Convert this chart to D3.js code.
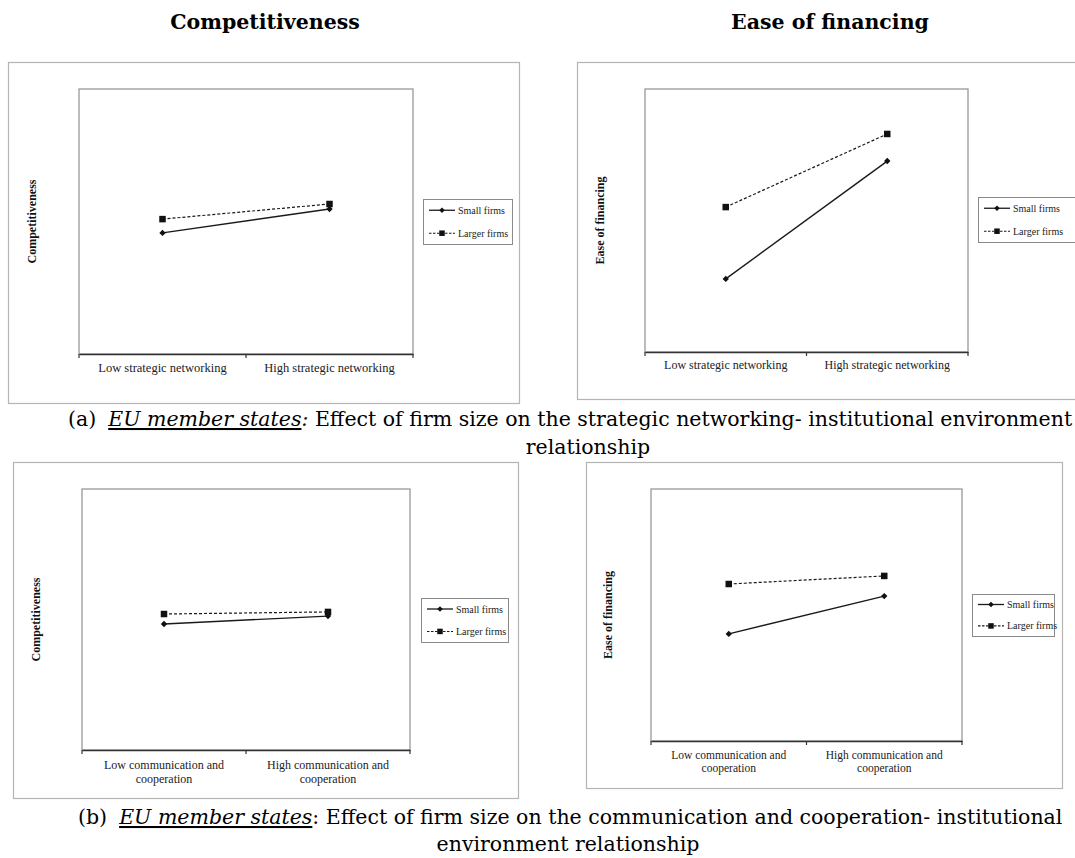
<!DOCTYPE html>
<html>
<head>
<meta charset="utf-8">
<script src="https://cdn.jsdelivr.net/npm/d3@7"></script>
<style>
  body { margin: 0; background: #fff; }
  svg { display: block; }
</style>
</head>
<body>
<svg id="chart" width="1075" height="858"></svg>
<script>
// ---------- data ----------
const seriesNames = ["Small firms", "Larger firms"];
const outcomeTitles = ["Competitiveness", "Ease of financing"];
const networkingLevels = ["Low strategic networking", "High strategic networking"];
const cooperationLevels = ["Low communication and cooperation", "High communication and cooperation"];
const cooperationLabelLines = [["Low communication and", "cooperation"], ["High communication and", "cooperation"]];
const yDomain = [0, 10];

// (a) strategic networking
const competitivenessNetworkingSmall = [4.57, 5.47];
const competitivenessNetworkingLarger = [5.09, 5.66];
const financingNetworkingSmall = [2.78, 7.26];
const financingNetworkingLarger = [5.51, 8.29];

// (b) communication and cooperation
const competitivenessCooperationSmall = [4.83, 5.13];
const competitivenessCooperationLarger = [5.21, 5.29];
const financingCooperationSmall = [4.25, 5.75];
const financingCooperationLarger = [6.23, 6.55];

// captions
const captionA = ["(a)", "EU member states", ":", " Effect of firm size on the strategic networking- institutional environment", "relationship"];
const captionB = ["(b)", "EU member states", ":", " Effect of firm size on the communication and cooperation- institutional", "environment relationship"];

// ---------- layout ----------
const panels = [
  {
    cats: networkingLevels, labels: networkingLevels.map(d => [d]),
    ylabel: outcomeTitles[0], small: competitivenessNetworkingSmall, larger: competitivenessNetworkingLarger,
    frame: [8, 62, 519, 403], plot: [79, 89, 413, 354], legend: [423, 199, 512, 244],
    ylabX: 32, tickY: 372, tickFont: 12.5
  },
  {
    cats: networkingLevels, labels: networkingLevels.map(d => [d]),
    ylabel: outcomeTitles[1], small: financingNetworkingSmall, larger: financingNetworkingLarger,
    frame: [577, 62, 1090, 399], plot: [645, 89, 968, 352], legend: [978, 197, 1090, 242],
    ylabX: 600, tickY: 369, tickFont: 12
  },
  {
    cats: cooperationLevels, labels: cooperationLabelLines,
    ylabel: outcomeTitles[0], small: competitivenessCooperationSmall, larger: competitivenessCooperationLarger,
    frame: [13, 462, 518, 798], plot: [82, 489, 410, 750], legend: [421, 598, 508, 642],
    ylabX: 36, tickY: 769, tickFont: 12
  },
  {
    cats: cooperationLevels, labels: cooperationLabelLines,
    ylabel: outcomeTitles[1], small: financingCooperationSmall, larger: financingCooperationLarger,
    frame: [586, 462, 1062, 788], plot: [651, 489, 962, 741], legend: [972, 594, 1054, 636],
    ylabX: 608, tickY: 759, tickFont: 11.5
  }
];

const svg = d3.select("#chart");
const chartFont = "'Liberation Serif', 'Times New Roman', serif";
const docFont = "'DejaVu Serif', serif";

const diamond = r => `M0,${-r}L${r},0L0,${r}L${-r},0Z`;

function drawMarker(g, kind, cx, cy, big) {
  if (kind === 0) {
    g.append("path").attr("d", diamond(big ? 3.2 : 2.8))
      .attr("transform", `translate(${cx},${cy})`).attr("fill", "#111");
  } else {
    const s = big ? 6.5 : 5.5;
    g.append("rect").attr("x", cx - s / 2).attr("y", cy - s / 2)
      .attr("width", s).attr("height", s).attr("fill", "#111");
  }
}

function drawPanel(p) {
  const g = svg.append("g");
  const [fx0, fy0, fx1, fy1] = p.frame;
  const [px0, py0, px1, py1] = p.plot;

  // outer chart-area frame
  g.append("rect").attr("x", fx0 + 0.5).attr("y", fy0 + 0.5)
    .attr("width", fx1 - fx0).attr("height", fy1 - fy0)
    .attr("fill", "#fff").attr("stroke", "#b4b4b4").attr("stroke-width", 1.2);

  const band = d3.scaleBand().domain(p.cats).range([px0, px1]);
  const x = d3.scalePoint().domain(p.cats).range([px0, px1]).padding(0.5);
  const y = d3.scaleLinear().domain(yDomain).range([py1, py0]);

  // plot-area frame
  g.append("rect").attr("x", px0).attr("y", py0)
    .attr("width", px1 - px0).attr("height", py1 - py0)
    .attr("fill", "none").attr("stroke", "#999").attr("stroke-width", 1.3);

  // category axis: boundary ticks, centred labels
  const axis = g.append("g").attr("transform", `translate(0,${py1})`)
    .call(d3.axisBottom(band).tickSize(0).tickFormat(""));
  axis.select(".domain").attr("stroke", "#333").attr("stroke-width", 1.3);
  const bounds = p.cats.map(c => band(c)).concat([band.range()[1]]);
  axis.selectAll("line.bound").data(bounds).join("line")
    .attr("class", "bound")
    .attr("x1", d => d).attr("x2", d => d).attr("y1", 0).attr("y2", 4)
    .attr("stroke", "#333").attr("stroke-width", 1.2);

  p.cats.forEach((c, i) => {
    const t = g.append("text").attr("x", x(c)).attr("y", p.tickY)
      .attr("text-anchor", "middle").attr("font-family", chartFont)
      .attr("font-size", p.tickFont).attr("fill", "#222");
    p.labels[i].forEach((ln, k) => {
      t.append("tspan").attr("x", x(c)).attr("dy", k === 0 ? 0 : p.tickFont * 1.15).text(ln);
    });
  });

  // y-axis title
  g.append("text")
    .attr("transform", `translate(${p.ylabX},${(py0 + py1) / 2}) rotate(-90)`)
    .attr("text-anchor", "middle").attr("dominant-baseline", "central")
    .attr("font-family", chartFont).attr("font-weight", "bold").attr("font-size", 12)
    .attr("fill", "#111").text(p.ylabel);

  // series lines
  const line = d3.line().x((d, i) => x(p.cats[i])).y(d => y(d));
  const series = [p.small, p.larger];
  series.forEach((vals, s) => {
    g.append("path").datum(vals).attr("d", line)
      .attr("fill", "none").attr("stroke", "#1a1a1a")
      .attr("stroke-width", s === 0 ? 1.4 : 1.2)
      .attr("stroke-dasharray", s === 0 ? null : "3,2");
    vals.forEach((v, i) => drawMarker(g, s, x(p.cats[i]), y(v), true));
  });

  // legend
  const [lx0, ly0, lx1, ly1] = p.legend;
  g.append("rect").attr("x", lx0 + 0.5).attr("y", ly0 + 0.5)
    .attr("width", lx1 - lx0).attr("height", ly1 - ly0)
    .attr("fill", "#fff").attr("stroke", "#8a8a8a").attr("stroke-width", 1);
  const rowH = (ly1 - ly0);
  seriesNames.forEach((name, s) => {
    const cy = ly0 + rowH * (s === 0 ? 0.25 : 0.76);
    g.append("line").attr("x1", lx0 + 6).attr("x2", lx0 + 32).attr("y1", cy).attr("y2", cy)
      .attr("stroke", "#1a1a1a").attr("stroke-width", s === 0 ? 1.3 : 1.1)
      .attr("stroke-dasharray", s === 0 ? null : "2.5,1.5");
    drawMarker(g, s, lx0 + 19, cy, false);
    g.append("text").attr("x", lx0 + 35).attr("y", cy)
      .attr("dominant-baseline", "central")
      .attr("font-family", chartFont).attr("font-size", 10).attr("fill", "#222")
      .text(name);
  });
}

// column titles
[[265, outcomeTitles[0]], [830, outcomeTitles[1]]].forEach(([cx, t]) => {
  svg.append("text").attr("x", cx).attr("y", 29).attr("text-anchor", "middle")
    .attr("font-family", docFont).attr("font-weight", "bold").attr("font-size", 20.5)
    .attr("fill", "#000").text(t);
});

panels.forEach(drawPanel);

// figure captions: numbered first line plus a centred second line
function drawCaption(parts, pos) {
  const t = svg.append("text").attr("x", pos.xLabel).attr("y", pos.y1)
    .attr("font-family", docFont).attr("font-size", 20.5).attr("fill", "#000");
  t.append("tspan").text(parts[0]);
  t.append("tspan").attr("dx", 12).attr("font-style", "italic")
    .style("text-decoration", "underline").text(parts[1]);
  t.append("tspan").attr("font-style", pos.colonItalic ? "italic" : "normal").text(parts[2]);
  t.append("tspan").text(parts[3]);
  svg.append("text").attr("x", pos.cx2).attr("y", pos.y2).attr("text-anchor", "middle")
    .attr("font-family", docFont).attr("font-size", 20.5).attr("fill", "#000").text(parts[4]);
}
drawCaption(captionA, { xLabel: 68, y1: 426, cx2: 588, y2: 454, colonItalic: true });
drawCaption(captionB, { xLabel: 78, y1: 824, cx2: 568, y2: 851, colonItalic: false });
</script>
</body>
</html>
